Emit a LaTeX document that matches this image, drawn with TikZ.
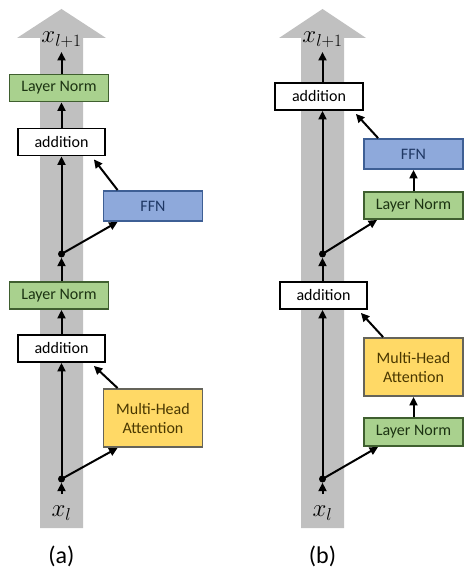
\documentclass[tikz,border=0pt]{standalone}
\usepackage{fontspec}
\setmainfont{Carlito}
\usetikzlibrary{arrows.meta}
\definecolor{bandgray}{HTML}{C0C0C0}
\definecolor{lnfill}{HTML}{A9D18E}
\definecolor{lndraw}{HTML}{3F5F2F}
\definecolor{lntext}{HTML}{1C3312}
\definecolor{ffnfill}{HTML}{8EA9DB}
\definecolor{ffndraw}{HTML}{3E5F95}
\definecolor{ffntext}{HTML}{1F3864}
\definecolor{mhafill}{HTML}{FFD966}
\definecolor{mhadraw}{HTML}{65645A}
\definecolor{mhatext}{HTML}{4A3800}
\begin{document}
\begin{tikzpicture}[x=1pt,y=-1pt,
  box/.style={draw, line width=1.8pt, minimum height=27pt, inner sep=0pt,
    font=\fontsize{16}{19}\selectfont, align=center},
  lnbox/.style={box, fill=lnfill, draw=lndraw, text=lntext, minimum width=99pt},
  addbox/.style={box, fill=white, draw=black, text=black, minimum width=87pt},
  ffnbox/.style={box, fill=ffnfill, draw=ffndraw, text=ffntext, minimum width=99pt, minimum height=30pt},
  mhabox/.style={box, fill=mhafill, draw=mhadraw, text=mhatext, minimum width=99pt, minimum height=58pt},
  band/.style={fill=bandgray, draw=none},
  dotnode/.style={circle, fill=black, inner sep=0pt, minimum size=7pt},
  lbl/.style={inner sep=0pt, font=\fontsize{26}{28}\selectfont},
  captext/.style={font=\fontsize{24}{26}\selectfont},
  conn/.style={line width=2pt, -{Triangle[length=8.5pt,width=8pt]}}
]
\useasboundingbox (0,0) rectangle (476,575);
\fill[white] (0,0) rectangle (476,575);
% bands
\path[band] (40,528) -- (40,38) -- (17,38) -- (61.5,9) -- (106,38) -- (83,38) -- (83,528) -- cycle;
\path[band] (301,528) -- (301,38) -- (279,38) -- (322.5,9) -- (366,38) -- (344,38) -- (344,528) -- cycle;

% ---------- (a) ----------
\node[lbl, anchor=south] (xa1) at (61.5,48) {$x_{l+1}$};
\node[lnbox] (lna1) at (59,88) {Layer Norm};
\node[addbox] (adda1) at (61.5,142) {addition};
\node[ffnbox] (ffna) at (153,206) {FFN};
\node[dotnode] (dota1) at (61.5,254) {};
\node[lnbox] (lna2) at (59,295.5) {Layer Norm};
\node[addbox] (adda2) at (61.5,348.5) {addition};
\node[mhabox] (mhaa) at (153,418) {Multi-Head\\Attention};
\node[dotnode] (dota2) at (61.5,479) {};
\node[lbl, anchor=north] (xa0) at (61.5,506) {$x_l$};
\node[captext] (capa) at (61.5,556) {(a)};

\draw[conn] ([yshift=12pt]xa0.north) -- (dota2.south);
\draw[conn] (dota2.center) -- (adda2.south);
\draw[conn] (dota2.center) -- ([xshift=15pt]mhaa.south west);
\draw[conn] ([xshift=15pt]mhaa.north west) -- ([xshift=-12pt,yshift=-3pt]adda2.south east);
\draw[conn] (adda2.north) -- (adda2.north |- lna2.south);
\draw[conn] (lna2.north -| dota1) -- (dota1.south);
\draw[conn] (dota1.center) -- (adda1.south);
\draw[conn] (dota1.center) -- ([xshift=15pt]ffna.south west);
\draw[conn] ([xshift=15pt]ffna.north west) -- ([xshift=-12pt,yshift=-3pt]adda1.south east);
\draw[conn] (adda1.north) -- (adda1.north |- lna1.south);
\draw[conn] (lna1.north -| xa1) -- ([yshift=-4pt]xa1.south);

% ---------- (b) ----------
\node[lbl, anchor=south] (xb1) at (322.5,48) {$x_{l+1}$};
\node[addbox, minimum width=88pt] (addb1) at (319,96.5) {addition};
\node[ffnbox] (ffnb) at (413.5,154) {FFN};
\node[lnbox] (lnb1) at (413.5,205.5) {Layer Norm};
\node[dotnode] (dotb1) at (322.5,254) {};
\node[addbox] (addb2) at (323.5,295.5) {addition};
\node[mhabox] (mhab) at (413.5,367) {Multi-Head\\Attention};
\node[lnbox, minimum height=28pt] (lnb2) at (413.5,432) {Layer Norm};
\node[dotnode] (dotb2) at (322.5,479) {};
\node[lbl, anchor=north] (xb0) at (322.5,506) {$x_l$};
\node[captext] (capb) at (322.5,556) {(b)};

\draw[conn] ([yshift=12pt]xb0.north) -- (dotb2.south);
\draw[conn] (dotb2.center) -- (dotb2 |- addb2.south);
\draw[conn] (dotb2.center) -- ([xshift=15pt]lnb2.south west);
\draw[conn] (lnb2.north) -- (mhab.south);
\draw[conn] ([xshift=20pt]mhab.north west) -- ([xshift=-7pt,yshift=-3pt]addb2.south east);
\draw[conn] (addb2.north -| dotb1) -- (dotb1.south);
\draw[conn] (dotb1.center) -- (dotb1 |- addb1.south);
\draw[conn] (dotb1.center) -- ([xshift=14pt]lnb1.south west);
\draw[conn] (lnb1.north) -- (ffnb.south);
\draw[conn] ([xshift=15pt]ffnb.north west) -- ([xshift=-8pt,yshift=-3pt]addb1.south east);
\draw[conn] (addb1.north -| xb1) -- ([yshift=-4pt]xb1.south);
\end{tikzpicture}
\end{document}
